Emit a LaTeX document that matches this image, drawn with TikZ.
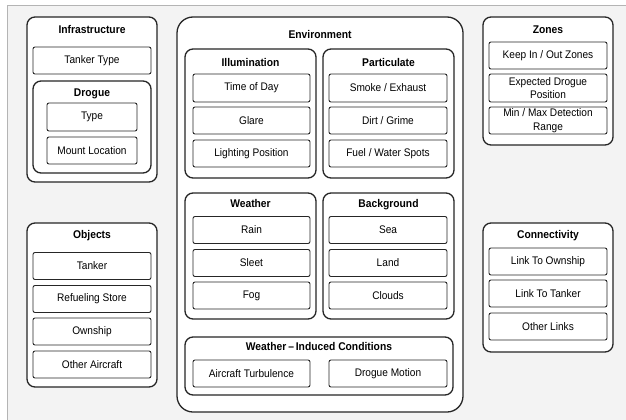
\documentclass[tikz,border=0pt]{standalone}
\usepackage{fontspec}
\setmainfont[FakeStretch=0.92]{Liberation Sans}
\definecolor{pagebg}{HTML}{F3F3F3}
\definecolor{pageedge}{HTML}{B4B4B4}
\definecolor{ink}{HTML}{262626}
\tikzset{
  group/.style={draw=ink, line width=1.3pt, fill=white, rounded corners=8pt, inner sep=0pt},
  envgroup/.style={group, rounded corners=16pt},
  item/.style={draw=ink, line width=0.9pt, fill=white, rounded corners=2pt, inner sep=0pt,
    minimum height=27pt, align=center, font=\fontsize{11}{13.5}\selectfont},
  title/.style={font=\bfseries\fontsize{11.2}{13}\selectfont, inner sep=0pt,
    text height=8.2pt, text depth=2.4pt, yshift=-1.3pt},
}
\newcommand{\grp}[5][group]{% style, name, center, width, height
  \node[#1, minimum width=#4pt, minimum height=#5pt] (#2) at (#3) {};}
\begin{document}
\begin{tikzpicture}[x=1pt,y=-1pt]
\useasboundingbox (0,0) rectangle (626,420);
% page background with its top and left edge
\fill[pagebg] (7,5) rectangle (626,420);
\draw[pageedge, line width=0.8pt] (7,420) -- (7,5) -- (626,5);

% Infrastructure
\grp{infra}{92,99.5}{130}{165}
\node[title] (infraT) at (92,29) {Infrastructure};
\node[item, minimum width=118pt] (tankertype) at (92,60.5) {Tanker Type};
\grp{drogue}{92,127}{118}{92}
\node[title] (drogueT) at (92,92) {Drogue};
\node[item, minimum width=90pt, minimum height=28pt] (dtype) at (92,117) {Type};
\node[item, minimum width=90pt] (mount) at (92,150.5) {Mount Location};

% Objects
\grp{objects}{92,305}{130}{164}
\node[title] (objectsT) at (92,234) {Objects};
\node[item, minimum width=118pt] (tanker) at (92,266) {Tanker};
\node[item, minimum width=118pt] (store) at (92,299) {Refueling Store};
\node[item, minimum width=118pt] (ownship) at (92,331.5) {Ownship};
\node[item, minimum width=118pt] (otherac) at (92,364.5) {Other Aircraft};

% Environment
\grp[envgroup]{env}{320,214.5}{286}{395}
\node[title] (envT) at (320,34) {Environment};

\grp{illum}{250.5,113.5}{131}{129}
\node[title] (illumT) at (250.5,62) {Illumination};
\node[item, minimum width=117pt, minimum height=28pt] (tod) at (251.5,88) {Time of Day};
\node[item, minimum width=117pt] (glare) at (251.5,120.5) {Glare};
\node[item, minimum width=117pt] (lightpos) at (251.5,153.5) {Lighting Position};

\grp{partic}{388.5,113.5}{131}{129}
\node[title] (particT) at (388.5,62) {Particulate};
\node[item, minimum width=118pt, minimum height=28pt] (smoke) at (388,88) {Smoke / Exhaust};
\node[item, minimum width=118pt] (dirt) at (388,120.5) {Dirt / Grime};
\node[item, minimum width=118pt] (fuel) at (388,153.5) {Fuel / Water Spots};

\grp{weather}{250.5,256}{131}{126}
\node[title] (weatherT) at (250.5,203) {Weather};
\node[item, minimum width=117pt] (rain) at (251.5,230) {Rain};
\node[item, minimum width=117pt] (sleet) at (251.5,263) {Sleet};
\node[item, minimum width=117pt] (fog) at (251.5,295.5) {Fog};

\grp{backgr}{388.5,256}{131}{126}
\node[title] (backgrT) at (388.5,203) {Background};
\node[item, minimum width=118pt] (sea) at (388,230) {Sea};
\node[item, minimum width=118pt] (land) at (388,263) {Land};
\node[item, minimum width=118pt] (clouds) at (388,295.5) {Clouds};

\grp{wic}{319,366}{268}{58}
\node[title] (wicT) at (319,346) {Weather\,--\,Induced Conditions};
\node[item, minimum width=117pt] (turb) at (251.5,373.5) {Aircraft Turbulence};
\node[item, minimum width=118pt] (dmotion) at (388,373.5) {Drogue Motion};

% Zones
\grp{zones}{548,81}{130}{128}
\node[title] (zonesT) at (548,29) {Zones};
\node[item, minimum width=118pt] (keep) at (548,55.5) {Keep In / Out Zones};
\node[item, minimum width=118pt, minimum height=28pt] (expected) at (548,88) {Expected Drogue\\Position};
\node[item, minimum width=118pt] (minmax) at (548,120.5) {Min / Max Detection\\Range};

% Connectivity
\grp{conn}{548,287.5}{130}{129}
\node[title] (connT) at (548,234) {Connectivity};
\node[item, minimum width=118pt] (lto) at (548,261.5) {Link To Ownship};
\node[item, minimum width=118pt] (ltt) at (548,293.5) {Link To Tanker};
\node[item, minimum width=118pt] (olinks) at (548,326.5) {Other Links};
\end{tikzpicture}
\end{document}
